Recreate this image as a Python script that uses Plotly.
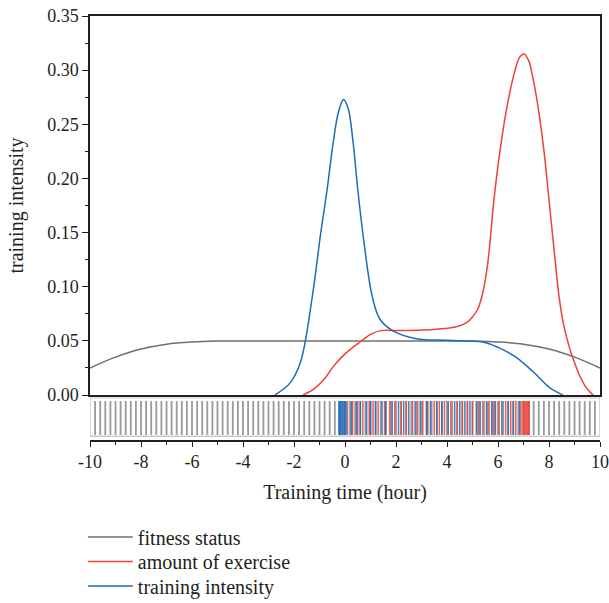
import plotly.graph_objects as go

# ---- KDE curves ----
gray_x = [-10, -9, -8, -7, -6, -5, -4, -2, 0, 2, 4, 5, 6, 7, 8, 9, 10]
gray_y = [0.025, 0.035, 0.0425, 0.047, 0.049, 0.0498, 0.05, 0.05, 0.05, 0.05, 0.05,
          0.0498, 0.049, 0.047, 0.0425, 0.035, 0.025]

red_x = [-1.65, -1.2, -0.8, -0.47, 0.0, 0.59, 1.0, 1.4, 2.16, 3.0, 4.1, 4.5, 4.78, 5.0,
         5.2, 5.4, 5.6, 5.84, 6.08, 6.4, 6.67, 6.85, 7.02, 7.2, 7.35, 7.53, 7.8, 8.0,
         8.2, 8.4, 8.6, 8.8, 9.0, 9.2, 9.4, 9.6, 9.73]
red_y = [0.0, 0.006, 0.015, 0.026, 0.038, 0.049, 0.056, 0.0595, 0.0595, 0.06, 0.062,
         0.064, 0.067, 0.072, 0.079, 0.094, 0.122, 0.18, 0.226, 0.272, 0.30, 0.312,
         0.315, 0.309, 0.295, 0.272, 0.226, 0.18, 0.134, 0.09, 0.062, 0.044, 0.030,
         0.018, 0.009, 0.003, 0.0]

blue_x = [-2.75, -2.16, -1.75, -1.3, -0.95, -0.7, -0.47, -0.25, -0.06, 0.12, 0.31, 0.5,
          0.75, 1.06, 1.37, 1.9, 2.8, 4.0, 5.4, 6.0, 6.7, 7.4, 8.0, 8.3, 8.55]
blue_y = [0.0, 0.011, 0.03, 0.088, 0.15, 0.19, 0.232, 0.262, 0.273, 0.265, 0.235, 0.19,
          0.14, 0.092, 0.07, 0.059, 0.052, 0.0505, 0.049, 0.044, 0.035, 0.021, 0.0074,
          0.003, 0.0]

# ---- rug observations ----
gray_rug = [-9.8, -9.6, -9.4, -9.2, -9.0, -8.8, -8.6, -8.4, -8.2, -8.0, -7.8, -7.6, -7.4,
            -7.2, -7.0, -6.8, -6.6, -6.4, -6.2, -6.0, -5.8, -5.6, -5.4, -5.2, -5.0, -4.8,
            -4.6, -4.4, -4.2, -4.0, -3.8, -3.6, -3.4, -3.2, -3.0, -2.8, -2.6, -2.4, -2.2,
            -2.0, -1.8, -1.6, -1.4, -1.2, -1.0, -0.8, -0.6, -0.4, -0.2, 0.0, 0.2, 0.4,
            0.6, 0.8, 1.0, 1.2, 1.4, 1.6, 1.8, 2.0, 2.2, 2.4, 2.6, 2.8, 3.0, 3.2, 3.4,
            3.6, 3.8, 4.0, 4.2, 4.4, 4.6, 4.8, 5.0, 5.2, 5.4, 5.6, 5.8, 6.0, 6.2, 6.4,
            6.6, 6.8, 7.0, 7.2, 7.4, 7.6, 7.8, 8.0, 8.2, 8.4, 8.6, 8.8, 9.0, 9.2, 9.4,
            9.6, 9.8]
red_rug = [0.1, 0.3, 0.5, 0.7, 0.95, 1.1, 1.3, 1.55, 1.75, 1.95, 2.2, 2.4, 2.65, 2.85,
           3.05, 3.25, 3.5, 3.7, 3.9, 4.15, 4.4, 4.6, 4.8, 5.0, 5.25, 5.45, 5.65, 5.85,
           6.05, 6.3, 6.5, 6.7, 6.9, 6.98, 7.0, 7.02, 7.04, 7.06, 7.08, 7.1, 7.12, 7.14,
           7.16, 7.18, 7.2, 7.22]
blue_rug = [-0.24, -0.22, -0.2, -0.18, -0.16, -0.14, -0.12, -0.1, -0.08, -0.06, -0.04,
            -0.02, 0.0, 0.02, 0.04, 0.25, 0.45, 0.6, 0.85, 1.0, 1.2, 1.45, 1.6, 1.85,
            2.1, 2.3, 2.5, 2.75, 2.95, 3.2, 3.35, 3.6, 3.8, 4.05, 4.3, 4.5, 4.7, 4.9,
            5.15, 5.3, 5.55, 5.75, 5.9, 6.15, 6.4, 6.6, 6.85]

names = ["fitness status", "amount of exercise", "training intensity"]
colors = ["#707070", "#ef4136", "#1c6cb8"]
legend_ids = ["legend", "legend2", "legend3"]

xtick_vals = [-10, -8, -6, -4, -2, 0, 2, 4, 6, 8, 10]
xtick_text = ["-10", "-8", "-6", "-4", "-2", "0", "2", "4", "6", "8", "10"]
xminor_vals = [-9, -7, -5, -3, -1, 1, 3, 5, 7, 9]

FONT = "Liberation Serif"
TXT = "#231f20"

fig = go.Figure()

for xs, ys, nm, c, lg in zip([gray_x, red_x, blue_x], [gray_y, red_y, blue_y], names,
                             colors, legend_ids):
    fig.add_trace(go.Scatter(x=xs, y=ys, name=nm, mode="lines", legend=lg,
                             line=dict(color=c, width=1.5, shape="spline", smoothing=1.0),
                             xaxis="x", yaxis="y"))


def rug(vals, color, width, opacity):
    xs, ys = [], []
    for v in vals:
        xs += [v, v, None]
        ys += [0.12, 0.92, None]
    return go.Scatter(x=xs, y=ys, mode="lines", showlegend=False, hoverinfo="skip",
                      line=dict(color=color, width=width), opacity=opacity,
                      xaxis="x2", yaxis="y2")


fig.add_trace(rug(gray_rug, "#9a9a9a", 1.8, 1.0))
fig.add_trace(rug(red_rug, colors[1], 1.5, 0.85))
fig.add_trace(rug(blue_rug, colors[2], 1.5, 0.85))

fig.add_shape(type="rect", xref="x2", yref="y2", x0=-10, x1=10, y0=0.09, y1=0.995,
              line=dict(color="#b0b0b0", width=1))

legend_common = dict(x=-0.014, xanchor="left", yanchor="middle",
                     font=dict(size=20, color=TXT), bgcolor="rgba(0,0,0,0)",
                     itemwidth=45)
# legend rows centred at 537, 561.5, 586 px (plot area spans 16..440 px)
legend_rows_y = [(440 - 537) / 424, (440 - 561.5) / 424, (440 - 586) / 424]

fig.update_layout(
    width=609, height=603,
    margin=dict(l=90, r=9, t=16, b=163, autoexpand=False),
    paper_bgcolor="white", plot_bgcolor="white",
    font=dict(family=FONT, size=18, color=TXT),
    xaxis=dict(domain=[0, 1], anchor="y", range=[-10, 10], matches="x2",
               showline=True, linecolor="#231f20", linewidth=1.5, mirror=True,
               showticklabels=False, ticks="", showgrid=False, zeroline=False,
               automargin=False),
    yaxis=dict(domain=[0.106, 1], anchor="x", range=[0, 0.35],
               tickmode="array", tickvals=[0, 0.05, 0.1, 0.15, 0.2, 0.25, 0.3, 0.35],
               tickformat=".2f", ticks="outside", ticklen=6, tickwidth=1,
               tickcolor="#231f20",
               minor=dict(ticks="outside", ticklen=3, tickcolor="#231f20",
                          tickvals=[0.025, 0.075, 0.125, 0.175, 0.225, 0.275, 0.325]),
               showline=True, linecolor="#231f20", linewidth=1.5, mirror=True,
               showgrid=False, zeroline=False, automargin=False,
               title=dict(text="training intensity", font=dict(size=20), standoff=18)),
    xaxis2=dict(domain=[0, 1], anchor="y2", range=[-10, 10],
                tickmode="array", tickvals=xtick_vals, ticktext=xtick_text,
                ticks="outside", ticklen=5, tickcolor="#231f20",
                minor=dict(ticks="outside", ticklen=3, tickcolor="#231f20",
                           tickvals=xminor_vals),
                showline=True, linecolor="#231f20", linewidth=1.5,
                showgrid=False, zeroline=False, automargin=False,
                title=dict(text="Training time (hour)", font=dict(size=20), standoff=14)),
    yaxis2=dict(domain=[0, 0.1], anchor="x2", range=[0, 1], showticklabels=False,
                ticks="", showgrid=False, zeroline=False, showline=False,
                automargin=False),
    legend=dict(y=legend_rows_y[0], **legend_common),
    legend2=dict(y=legend_rows_y[1], **legend_common),
    legend3=dict(y=legend_rows_y[2], **legend_common),
    showlegend=True,
)

fig.write_html("out.html", config={"displayModeBar": False},
               post_script="document.body.style.margin='0';")
